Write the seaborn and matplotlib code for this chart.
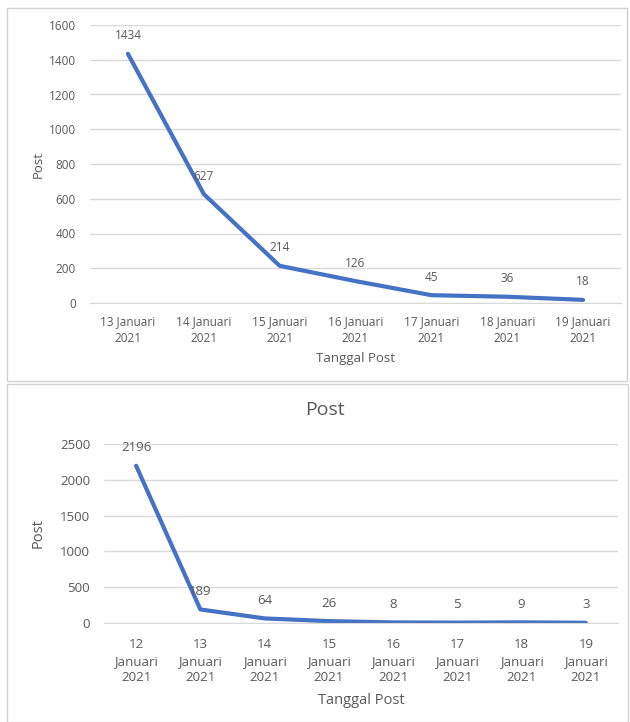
import matplotlib
matplotlib.use("Agg")
import matplotlib.pyplot as plt
import seaborn as sns
import pandas as pd
from matplotlib.patches import Rectangle

top_dates = ["13 Januari\n2021", "14 Januari\n2021", "15 Januari\n2021", "16 Januari\n2021",
             "17 Januari\n2021", "18 Januari\n2021", "19 Januari\n2021"]
top_posts = [1434, 627, 214, 126, 45, 36, 18]

bottom_dates = ["12\nJanuari\n2021", "13\nJanuari\n2021", "14\nJanuari\n2021", "15\nJanuari\n2021",
                "16\nJanuari\n2021", "17\nJanuari\n2021", "18\nJanuari\n2021", "19\nJanuari\n2021"]
bottom_posts = [2196, 189, 64, 26, 8, 5, 9, 3]

sns.set_style("white")
plt.rcParams['font.family'] = ['Open Sans', 'DejaVu Sans']

W, H = 630, 722
fig = plt.figure(figsize=(W / 100, H / 100), dpi=100)
fig.patch.set_facecolor("white")

TXT = "#595959"
GRID = "#d9d9d9"
LINE = "#4472C4"


def box(l, t, r, b):
    return [l / W, 1 - b / H, (r - l) / W, (b - t) / H]


# frames
fig.patches.append(Rectangle((7 / W, 1 - 381 / H), (627 - 7) / W, (381 - 8) / H,
                             transform=fig.transFigure, fill=False, edgecolor="#d0d0d0", lw=1))
fig.patches.append(Rectangle((7 / W, 1 - 722 / H), (628 - 7) / W, (722 - 384) / H,
                             transform=fig.transFigure, fill=False, edgecolor="#d0d0d0", lw=1))


def draw(ax, dates, posts, ymax, step, fs, ylab_x, xlab_y, label_off, xpad, lsp, xlfs):
    df = pd.DataFrame({"Tanggal Post": dates, "Post": posts})
    sns.lineplot(data=df, x="Tanggal Post", y="Post", ax=ax, color=LINE, lw=3, sort=False)
    ax.set_xlim(-0.5, len(dates) - 0.5)
    ax.set_ylim(0, ymax)
    ax.set_yticks(range(0, ymax + 1, step))
    ax.yaxis.grid(True, color=GRID, lw=1)
    ax.set_axisbelow(True)
    for s in ["top", "right", "left"]:
        ax.spines[s].set_visible(False)
    ax.spines["bottom"].set_color(GRID)
    ax.tick_params(axis="both", length=0, colors=TXT, labelsize=fs)
    ax.tick_params(axis="x", pad=xpad)
    ax.tick_params(axis="y", pad=10)
    for lbl in ax.get_xticklabels():
        lbl.set_linespacing(lsp)
    ax.set_xlabel("Tanggal Post", color=TXT, fontsize=xlfs)
    ax.set_ylabel("Post", color=TXT, fontsize=xlfs)
    ax.yaxis.set_label_coords(ylab_x, 0.5)
    ax.xaxis.set_label_coords(0.5, xlab_y)
    for i, v in enumerate(posts):
        ax.annotate(str(v), (i, v), xytext=(0, label_off), textcoords="offset pixels",
                    ha="center", va="center", color=TXT, fontsize=fs)


ax1 = fig.add_axes(box(90, 25, 621, 303))
draw(ax1, top_dates, top_posts, 1600, 200, 8.5, -0.085, -0.175, 18, 9, 1.3, 9.5)

ax2 = fig.add_axes(box(104, 444, 618, 623))
draw(ax2, bottom_dates, bottom_posts, 2500, 500, 9.5, -0.113, -0.39, 18, 11, 1.35, 10.5)
fig.text(325 / W, 1 - 410 / H, "Post", color=TXT, fontsize=14, ha="center", va="center")

fig.savefig("out.png", dpi=100, facecolor="white")
